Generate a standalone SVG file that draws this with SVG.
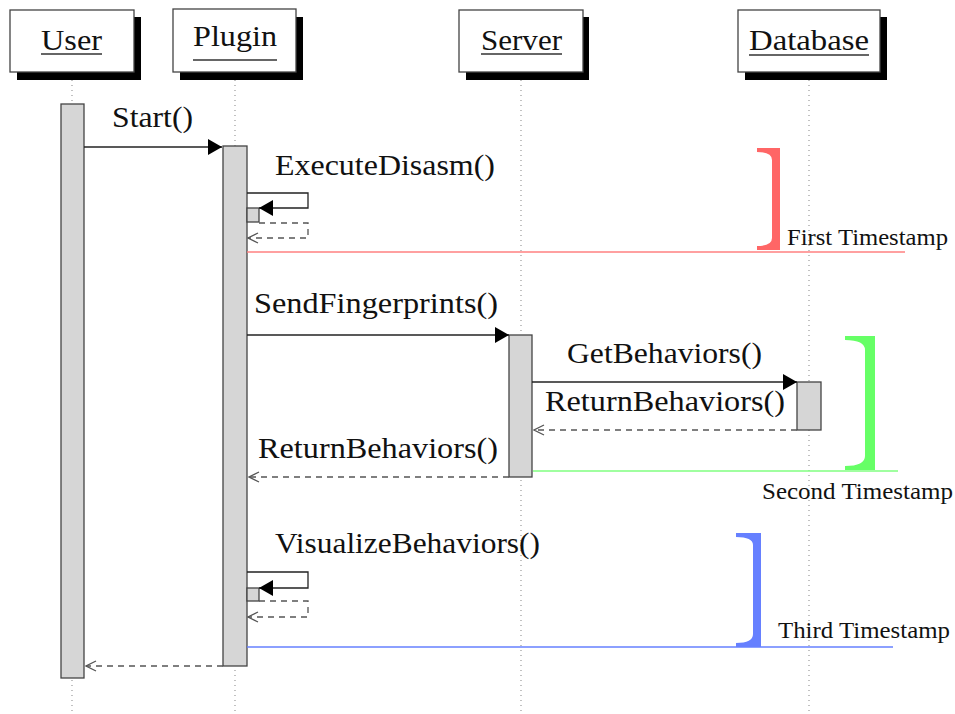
<svg xmlns="http://www.w3.org/2000/svg" width="955" height="714" viewBox="0 0 955 714">
<defs>
<marker id="fill" markerWidth="14" markerHeight="16" refX="14" refY="8" orient="auto" markerUnits="userSpaceOnUse">
<path d="M0,0 L14,8 L0,16 Z" fill="#000"/>
</marker>
<marker id="open" markerWidth="12" markerHeight="14" refX="11" refY="7" orient="auto" markerUnits="userSpaceOnUse">
<path d="M1,2 L11,7 L1,12" fill="none" stroke="#555" stroke-width="1.3"/>
</marker>
</defs>
<style>
.head{fill:#fff;stroke:#444;stroke-width:1.3}
.shadow{fill:#000}
.life{stroke:#999;stroke-width:1.2;stroke-dasharray:1,4;fill:none}
.act{fill:#d6d6d6;stroke:#444;stroke-width:1.3}
.t{font-family:'Liberation Serif','Times New Roman',serif;font-size:30px;fill:#111}
.ts{font-family:'Liberation Serif','Times New Roman',serif;font-size:23px;fill:#111}
.ul{stroke:#333;stroke-width:1.3}
.msg{stroke:#222;stroke-width:1.3;fill:none}
.ret{stroke:#555;stroke-width:1.3;fill:none;stroke-dasharray:6,5}
</style>
<rect width="955" height="714" fill="#fff"/>
<g id="lifelines">
<line class="life" x1="72" y1="80" x2="72" y2="714"/>
<line class="life" x1="235" y1="80" x2="235" y2="714"/>
<line class="life" x1="521" y1="80" x2="521" y2="714"/>
<line class="life" x1="809" y1="80" x2="809" y2="714"/>
</g>
<g id="user">
<rect class="shadow" x="17" y="17" width="124" height="63"/>
<rect class="head" x="10" y="10" width="124" height="62"/>
<text class="t" x="41" y="50" textLength="61" lengthAdjust="spacingAndGlyphs">User</text>
<line class="ul" x1="41" y1="54" x2="102" y2="54"/>
<rect class="act" x="61" y="104" width="23" height="574"/>
</g>
<g id="plugin">
<rect class="shadow" x="180" y="17" width="123" height="63"/>
<rect class="head" x="173" y="9" width="123" height="63"/>
<text class="t" x="193" y="46" textLength="84" lengthAdjust="spacingAndGlyphs">Plugin</text>
<line class="ul" x1="193" y1="60" x2="277" y2="60"/>
<rect class="act" x="223" y="146" width="24" height="520"/>
<rect class="act" x="247" y="208" width="12" height="14"/>
<rect class="act" x="247" y="588" width="12" height="13"/>
</g>
<g id="server">
<rect class="shadow" x="466" y="17" width="123" height="63"/>
<rect class="head" x="459" y="10" width="124" height="62"/>
<text class="t" x="481" y="50" textLength="81" lengthAdjust="spacingAndGlyphs">Server</text>
<line class="ul" x1="481" y1="54" x2="562" y2="54"/>
<rect class="act" x="509" y="335" width="23" height="142"/>
</g>
<g id="database">
<rect class="shadow" x="745" y="17" width="142" height="63"/>
<rect class="head" x="738" y="10" width="142" height="62"/>
<text class="t" x="749" y="50" textLength="120" lengthAdjust="spacingAndGlyphs">Database</text>
<line class="ul" x1="749" y1="55" x2="869" y2="55"/>
<rect class="act" x="797" y="382" width="24" height="48"/>
</g>
<g id="timestamps">
<line x1="247" y1="252" x2="905" y2="252" stroke="#ff8080" stroke-width="1.3"/>
<path d="M757,148 L780,148 L780,250 L757,250 L757,246 Q772,246 772,238 L772,160 Q772,152 757,152 Z" fill="#ff6666"/>
<text class="ts" x="787" y="245" textLength="161" lengthAdjust="spacingAndGlyphs">First Timestamp</text>
<line x1="533" y1="471" x2="898" y2="471" stroke="#80ff80" stroke-width="1.3"/>
<path d="M845,336 L875,336 L875,470 L845,470 L845,466 Q865,466 865,456 L865,350 Q865,340 845,340 Z" fill="#66ff66"/>
<text class="ts" x="762" y="499" textLength="191" lengthAdjust="spacingAndGlyphs">Second Timestamp</text>
<line x1="247" y1="647" x2="893" y2="647" stroke="#6680ff" stroke-width="1.3"/>
<path d="M736,533 L761,533 L761,647 L736,647 L736,643 Q753,643 753,634 L753,545 Q753,537 736,537 Z" fill="#6680ff"/>
<text class="ts" x="778" y="638" textLength="172" lengthAdjust="spacingAndGlyphs">Third Timestamp</text>
</g>
<g id="connectors">
<line class="msg" x1="84" y1="147" x2="222" y2="147" marker-end="url(#fill)"/>
<text class="t" x="112" y="127" textLength="81" lengthAdjust="spacingAndGlyphs">Start()</text>
<polyline class="msg" points="247,193 308,193 308,208 259,208" marker-end="url(#fill)"/>
<polyline class="ret" points="259,223 308,223 308,238 248,238" marker-end="url(#open)"/>
<text class="t" x="275" y="175" textLength="220" lengthAdjust="spacingAndGlyphs">ExecuteDisasm()</text>
<line class="msg" x1="247" y1="335" x2="509" y2="335" marker-end="url(#fill)"/>
<text class="t" x="254" y="313" textLength="244" lengthAdjust="spacingAndGlyphs">SendFingerprints()</text>
<line class="msg" x1="532" y1="382" x2="797" y2="382" marker-end="url(#fill)"/>
<text class="t" x="567" y="363" textLength="195" lengthAdjust="spacingAndGlyphs">GetBehaviors()</text>
<line class="ret" x1="797" y1="430" x2="534" y2="430" marker-end="url(#open)"/>
<text class="t" x="545" y="411" textLength="240" lengthAdjust="spacingAndGlyphs">ReturnBehaviors()</text>
<line class="ret" x1="509" y1="477" x2="249" y2="477" marker-end="url(#open)"/>
<text class="t" x="258" y="458" textLength="240" lengthAdjust="spacingAndGlyphs">ReturnBehaviors()</text>
<polyline class="msg" points="247,572 308,572 308,588 259,588" marker-end="url(#fill)"/>
<polyline class="ret" points="259,601 308,601 308,617 248,617" marker-end="url(#open)"/>
<text class="t" x="275" y="553" textLength="265" lengthAdjust="spacingAndGlyphs">VisualizeBehaviors()</text>
<line class="ret" x1="223" y1="666" x2="86" y2="666" marker-end="url(#open)"/>
</g>
</svg>
